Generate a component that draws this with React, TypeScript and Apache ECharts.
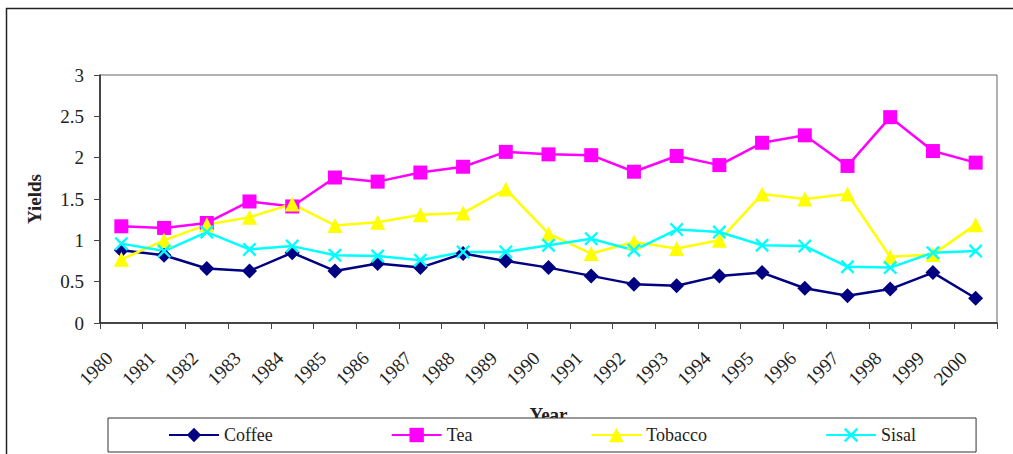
import React, { useEffect, useRef } from "react";
import * as echarts from "echarts";

const years = ["1980","1981","1982","1983","1984","1985","1986","1987","1988","1989","1990","1991","1992","1993","1994","1995","1996","1997","1998","1999","2000"];
const coffee = [0.88,0.82,0.66,0.63,0.85,0.63,0.72,0.67,0.84,0.75,0.67,0.57,0.47,0.45,0.57,0.61,0.42,0.33,0.41,0.61,0.30];
const tea = [1.17,1.15,1.21,1.47,1.41,1.76,1.71,1.82,1.89,2.07,2.04,2.03,1.83,2.02,1.91,2.18,2.27,1.90,2.49,2.08,1.94];
const tobacco = [0.77,1.0,1.19,1.28,1.44,1.18,1.22,1.31,1.33,1.62,1.08,0.84,0.98,0.90,1.0,1.56,1.50,1.56,0.80,0.83,1.19];
const sisal = [0.96,0.87,1.10,0.89,0.93,0.82,0.81,0.76,0.86,0.86,0.94,1.02,0.88,1.13,1.10,0.94,0.93,0.68,0.67,0.85,0.87];

const FONT = "Liberation Serif";
const X_SYMBOL = "path://M0,1.2L1.2,0L5,3.8L8.8,0L10,1.2L6.2,5L10,8.8L8.8,10L5,6.2L1.2,10L0,8.8L3.8,5Z";

export default function App() {
  const ref = useRef<HTMLDivElement>(null);
  useEffect(() => {
    if (!ref.current) return;
    const chart = echarts.init(ref.current, null, { renderer: "svg" });
    const mk = (name: string, data: number[], color: string, symbol: string, size: number) => ({
      name,
      type: "line",
      data,
      symbol,
      symbolSize: size,
      showAllSymbol: true,
      lineStyle: { color, width: 2.5 },
      itemStyle: { color },
      emphasis: { disabled: true },
    });
    chart.setOption({
      animation: false,
      textStyle: { fontFamily: FONT },
      graphic: [
        {
          type: "rect",
          shape: { x: 6.5, y: 8.5, width: 1200, height: 600 },
          style: { fill: "none", stroke: "#222", lineWidth: 1.5 },
          silent: true,
          z: -10,
        },
      ],
      grid: {
        left: 100,
        right: 16,
        top: 75,
        bottom: 131,
        show: true,
        borderColor: "#666",
        borderWidth: 1,
        containLabel: false,
      },
      legend: {
        left: 108,
        top: 418,
        padding: [8, 60, 8, 60],
        itemGap: 118,
        itemWidth: 50,
        itemHeight: 18,
        borderColor: "#333",
        borderWidth: 1,
        backgroundColor: "#fff",
        textStyle: { fontFamily: FONT, fontSize: 18, color: "#222" },
        data: ["Coffee", "Tea", "Tobacco", "Sisal"],
      },
      xAxis: {
        type: "category",
        data: years,
        boundaryGap: true,
        name: "Year",
        nameLocation: "middle",
        nameGap: 82,
        nameTextStyle: { fontFamily: FONT, fontSize: 19, fontWeight: "bold", color: "#222" },
        axisLine: { lineStyle: { color: "#222", width: 1.5 } },
        axisTick: { show: true, length: 6, alignWithLabel: false, lineStyle: { color: "#444" } },
        axisLabel: {
          rotate: 45,
          interval: 0,
          margin: 20,
          padding: [0, 17, 0, 0],
          fontFamily: FONT,
          fontSize: 19,
          color: "#222",
        },
        splitLine: { show: false },
      },
      yAxis: {
        type: "value",
        min: 0,
        max: 3,
        interval: 0.5,
        name: "Yields",
        nameLocation: "middle",
        nameGap: 56,
        nameRotate: 90,
        nameTextStyle: { fontFamily: FONT, fontSize: 19, fontWeight: "bold", color: "#222" },
        axisLine: { show: true, lineStyle: { color: "#222", width: 1.5 } },
        axisTick: { show: true, length: 6, lineStyle: { color: "#444" } },
        axisLabel: { margin: 16, fontFamily: FONT, fontSize: 19, color: "#222" },
        splitLine: { show: false },
      },
      series: [
        mk("Coffee", coffee, "#000080", "diamond", 15),
        mk("Tea", tea, "#FF00FF", "rect", 14),
        mk("Tobacco", tobacco, "#FFFF00", "triangle", 15),
        mk("Sisal", sisal, "#00FFFF", X_SYMBOL, 14),
      ],
    });
    return () => chart.dispose();
  }, []);
  return (
    <div
      ref={ref}
      style={{ position: "fixed", left: 0, top: 0, width: 1013, height: 454, background: "#fff" }}
    />
  );
}
